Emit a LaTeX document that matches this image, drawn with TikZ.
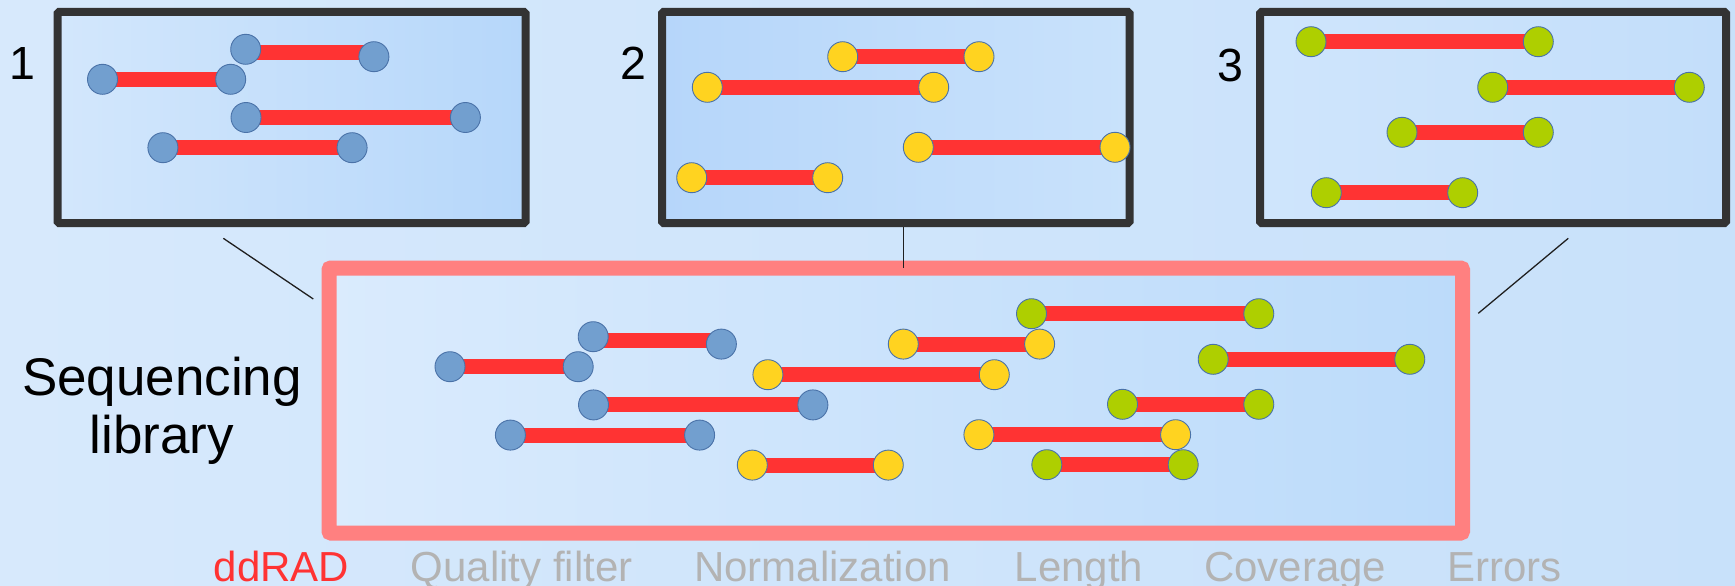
\documentclass[tikz,border=0pt]{standalone}
\usepackage{fontspec}
\setmainfont{Liberation Sans}
\pgfdeclarelayer{bg}
\pgfdeclarelayer{bars}
\pgfsetlayers{bg,bars,main}

\definecolor{rdblue}{HTML}{729FCF}
\definecolor{rdyellow}{HTML}{FFD320}
\definecolor{rdgreen}{HTML}{AECF00}
\definecolor{rdred}{HTML}{FF3333}
\definecolor{rdedge}{HTML}{4A72A8}
\definecolor{frmcol}{HTML}{333333}
\definecolor{pinkframe}{HTML}{FF8080}
\definecolor{labgray}{HTML}{B3B3B3}
\definecolor{bgL}{HTML}{D7E9FC}
\definecolor{bgM}{HTML}{BFDBF9}
\definecolor{bgR}{HTML}{C8E1FA}
\definecolor{boxAL}{HTML}{D3E7FC}
\definecolor{boxAR}{HTML}{B6D7FA}
\definecolor{boxBL}{HTML}{B6D6FA}
\definecolor{boxBR}{HTML}{C9E2FB}
\definecolor{boxCL}{HTML}{CFE5FC}
\definecolor{boxCR}{HTML}{C3DEFA}
\definecolor{libL}{HTML}{DAEBFD}
\definecolor{libM}{HTML}{BCDBFA}
\definecolor{libR}{HTML}{BCDBFA}

\tikzset{
  endb/.style={circle, inner sep=0pt, minimum size=30, draw=rdedge, line width=0.9, fill=rdblue},
  endy/.style={endb, fill=rdyellow},
  endg/.style={endb, fill=rdgreen},
  barline/.style={draw=rdred, line width=15},
  frm/.style={rectangle, draw=frmcol, line width=8, rounded corners=1.5, inner sep=0pt},
  libfrm/.style={rectangle, draw=pinkframe, line width=15, rounded corners=2, inner sep=0pt},
  link/.style={draw=black!88, line width=1.3},
  numlab/.style={font=\fontsize{46.5}{50}\selectfont, anchor=base, inner sep=0pt},
  seqlab/.style={font=\fontsize{53}{58}\selectfont, anchor=base, inner sep=0pt},
  steplab/.style={font=\fontsize{42}{46}\selectfont, anchor=base west, inner sep=0pt, text=labgray},
}

\newcommand\rdpair[8]{%
  \node[#2] (#1l) at (#3,#4) {};
  \node[#2] (#1r) at (#5,#6) {};
  \begin{pgfonlayer}{bars}
    \draw[barline] ([yshift=#7]#1l.center) -- ([yshift=#8]#1r.center);
  \end{pgfonlayer}%
}
\newcommand\bluereads[1]{%
  \rdpair{#1A}{endb}{102.5}{79.3}{230.7}{79.3}{0pt}{0pt}
  \rdpair{#1B}{endb}{245.7}{49.3}{373.9}{56.7}{-3.7pt}{3.7pt}
  \rdpair{#1C}{endb}{246}{117.5}{465.4}{117.5}{0pt}{0pt}
  \rdpair{#1D}{endb}{162.9}{147.7}{352.1}{147.7}{0pt}{0pt}
}
\newcommand\yellowreads[1]{%
  \rdpair{#1A}{endy}{842.7}{56.7}{979}{56.7}{0pt}{0pt}
  \rdpair{#1B}{endy}{707.3}{87.3}{933.7}{87.3}{0pt}{0pt}
  \rdpair{#1C}{endy}{918.3}{147.3}{1115}{147.3}{0pt}{0pt}
  \rdpair{#1D}{endy}{691.7}{177.7}{827.7}{177.7}{0pt}{0pt}
}
\newcommand\greenreads[1]{%
  \rdpair{#1A}{endg}{1311}{41.7}{1538.3}{41.7}{0pt}{0pt}
  \rdpair{#1B}{endg}{1492.7}{87.3}{1689.3}{87.3}{0pt}{0pt}
  \rdpair{#1C}{endg}{1402}{132.3}{1538.3}{132.3}{0pt}{0pt}
  \rdpair{#1D}{endg}{1326.3}{192.7}{1462.7}{192.7}{0pt}{0pt}
}

\begin{document}
\begin{tikzpicture}[x=1pt,y=-1pt]
\useasboundingbox (0,0) rectangle (1735,586);

\begin{pgfonlayer}{bg}
  \shade[left color=bgL, middle color=bgM, right color=bgR] (0,0) rectangle (1735,586);
  % frames
  \node[frm, minimum width=468, minimum height=211,
        left color=boxAL, right color=boxAR] (box1) at (291.5,117.5) {};
  \node[frm, minimum width=467.5, minimum height=211,
        left color=boxBL, right color=boxBR] (box2) at (895.75,117.5) {};
  \node[frm, minimum width=466, minimum height=211,
        left color=boxCL, right color=boxCR] (box3) at (1493,117.5) {};
  \node[libfrm, minimum width=1133.5, minimum height=265,
        left color=libL, middle color=libM, right color=libR] (lib) at (895.75,400.5) {};
  % connector lines
  \coordinate (l1a) at (223.3,238.3);
  \coordinate (l1b) at (313.3,299);
  \coordinate (l2a) at (903.5,227);
  \coordinate (l2b) at (903.5,268);
  \coordinate (l3a) at (1568.3,238.3);
  \coordinate (l3b) at (1478.3,313.3);
  \draw[link] (l1a) -- (l1b);
  \draw[link] (l2a) -- (l2b);
  \draw[link] (l3a) -- (l3b);
\end{pgfonlayer}

% reads in the three samples
\bluereads{p}
\yellowreads{q}
\greenreads{r}

% reads in the sequencing library
\begin{scope}[shift={(347.5,287.4)}]
  \bluereads{s}
\end{scope}
\begin{scope}[shift={(-279.5,272)}]
  \greenreads{u}
\end{scope}
\begin{scope}[shift={(60.6,287.4)}]
  \yellowreads{t}
\end{scope}

% labels
\node[numlab] (n1) at (22.5,80) {1};
\node[numlab] (n2) at (633.3,80) {2};
\node[numlab] (n3) at (1230.5,81.5) {3};
\node[seqlab] (seq1) at (162,395.7) {Sequencing};
\node[seqlab] (seq2) at (162,453.3) {library};

\node[steplab, text=rdred] (s1) at (213.6,581) {ddRAD};
\node[steplab] (s2) at (410.5,581) {Quality filter};
\node[steplab] (s3) at (693.8,581) {Normalization};
\node[steplab] (s4) at (1014.7,581) {Length};
\node[steplab] (s5) at (1204,581) {Coverage};
\node[steplab] (s6) at (1447.3,581) {Errors};
\end{tikzpicture}
\end{document}
